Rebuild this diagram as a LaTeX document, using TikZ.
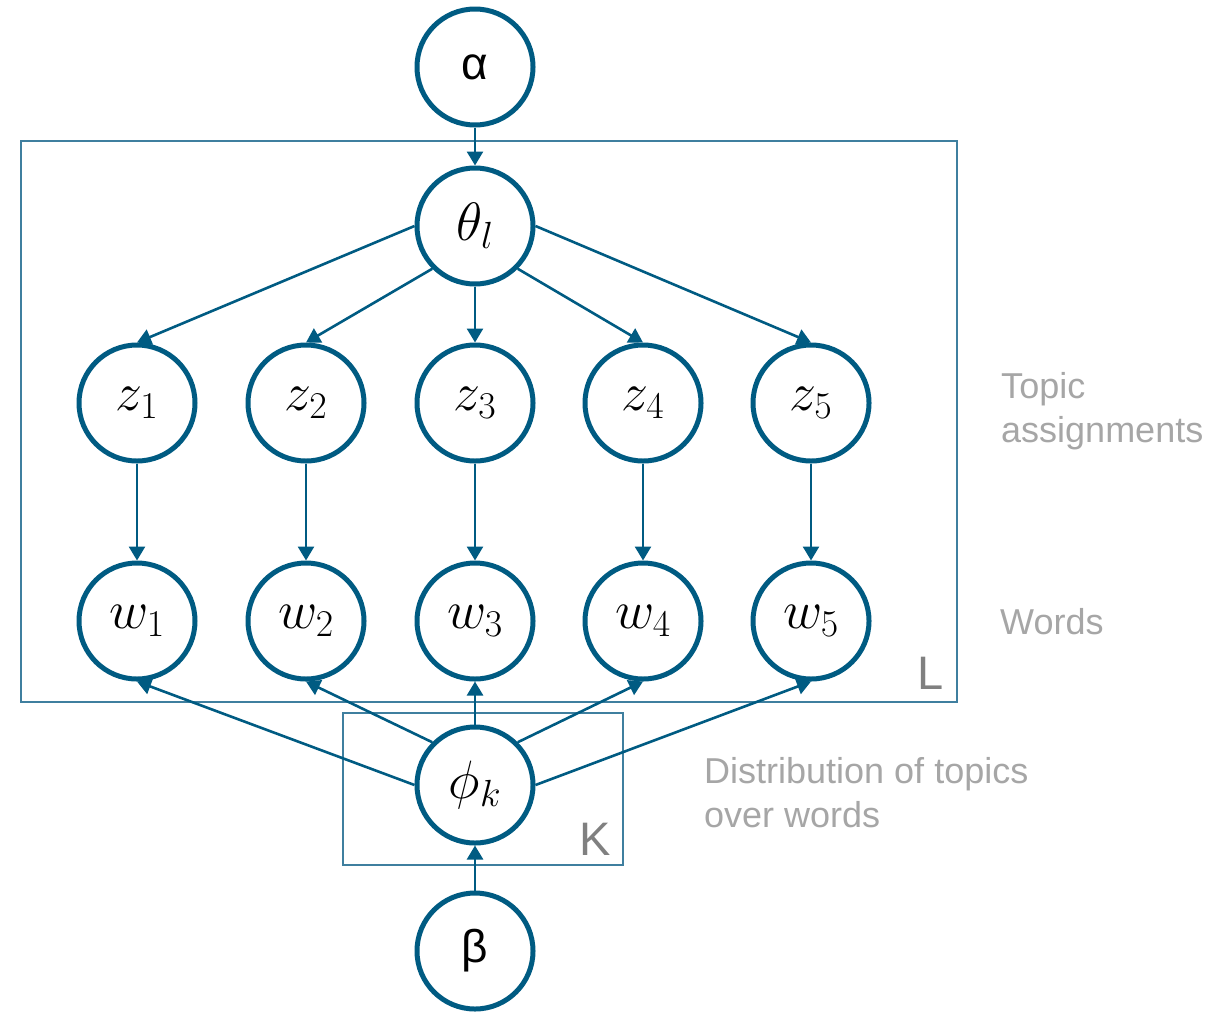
\RequirePackage{fix-cm}
\documentclass[tikz,border=0pt]{standalone}
\usepackage{fontspec}
\newfontfamily\labelfont{Liberation Sans}
\usetikzlibrary{arrows.meta}
\definecolor{nodeblue}{HTML}{005B82}
\definecolor{platec}{HTML}{3F7F9F}
\definecolor{notegrey}{HTML}{A6A6A6}
\definecolor{plategrey}{HTML}{808080}

\begin{document}
\begin{tikzpicture}[x=1pt,y=-1pt,
  var/.style={circle, draw=nodeblue, line width=5pt, fill=white, minimum size=116pt,
    inner sep=0pt, font=\fontsize{54}{58}\selectfont},
  hyper/.style={var, font=\labelfont\fontsize{46}{50}\selectfont},
  edge/.style={draw=nodeblue, line width=2.6pt, -{Triangle[length=14pt,width=16pt]}},
  plate/.style={draw=platec, line width=1.5pt},
  note/.style={font=\labelfont\fontsize{36}{44}\selectfont, text=notegrey, align=left,
    inner sep=0pt, anchor=base west},
  platelabel/.style={font=\labelfont\fontsize{47}{50}\selectfont, text=plategrey,
    inner sep=0pt, anchor=base east}
]
\useasboundingbox (0,0) rectangle (1222,1012);

% plates
\draw[plate] (21,141) rectangle (957,702);
\draw[plate] (343,713) rectangle (623,865);
\node[platelabel] (platel) at (944,689) {L};
\node[platelabel] (platek) at (611,855) {K};

% variables
\node[hyper] (alpha) at (475,67) {α};
\node[var] (theta) at (475,226) {$\theta_l$};
\foreach \i/\x in {1/137,2/306,3/475,4/643,5/811}{
  \node[var] (z\i) at (\x,403) {$z_\i$};
  \node[var] (w\i) at (\x,621) {$w_\i$};
}
\node[var] (phi) at (475,785) {$\phi_k$};
\node[hyper] (beta) at (475,951) {β};

% dependencies
\draw[edge] (alpha) -- (theta);
\draw[edge] (theta.west) -- (z1.north);
\draw[edge] (theta.-135) -- (z2.north);
\draw[edge] (theta) -- (z3);
\draw[edge] (theta.-45) -- (z4.north);
\draw[edge] (theta.east) -- (z5.north);
\foreach \i in {1,...,5}{\draw[edge] (z\i) -- (w\i);}
\draw[edge] (phi.west) -- (w1.south);
\draw[edge] (phi.135) -- (w2.south);
\draw[edge] (phi) -- (w3);
\draw[edge] (phi.45) -- (w4.south);
\draw[edge] (phi.east) -- (w5.south);
\draw[edge] (beta) -- (phi);

% annotations (base anchor sits on the last line)
\node[note] (topics) at (1001,442) {Topic\\assignments};
\node[note] (words) at (1000,634) {Words};
\node[note] (dist) at (704,827) {Distribution of topics\\over words};
\end{tikzpicture}
\end{document}
